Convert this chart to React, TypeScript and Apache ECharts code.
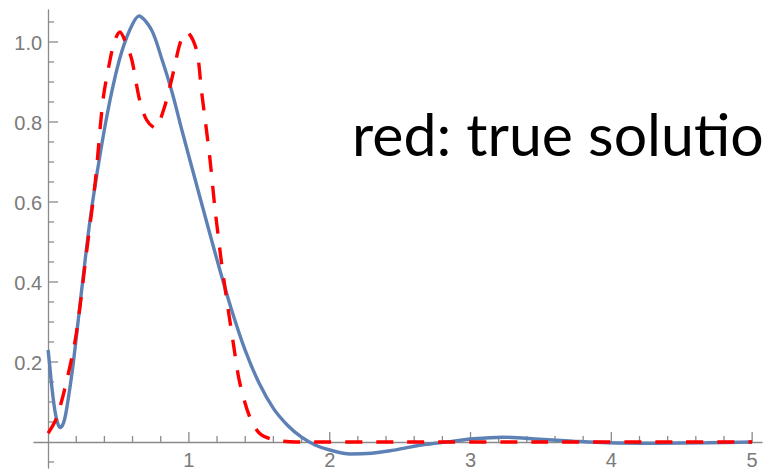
import React, { useEffect, useRef } from "react";
import * as echarts from "echarts";

// Blue (solid) curve: [x, y]
const blueX = [0, 0.012, 0.024, 0.048, 0.07, 0.088, 0.11, 0.13, 0.166, 0.19, 0.245, 0.3, 0.37, 0.44, 0.51, 0.58, 0.645, 0.735, 0.81, 0.88, 0.95, 1.03, 1.13, 1.22, 1.3, 1.4, 1.5, 1.6, 1.7, 1.8, 1.9, 2.0, 2.145, 2.3, 2.43, 2.55, 2.665, 2.83, 3.02, 3.23, 3.49, 3.73, 3.97, 4.32, 4.68, 5.0];
const blueY = [0.23, 0.19, 0.146, 0.079, 0.045, 0.036, 0.048, 0.079, 0.1625, 0.23, 0.4, 0.56, 0.72, 0.855, 0.96, 1.03, 1.065, 1.03, 0.955, 0.875, 0.78, 0.675, 0.545, 0.43, 0.334, 0.229, 0.146, 0.084, 0.042, 0.012, -0.008, -0.02, -0.03, -0.028, -0.022, -0.014, -0.007, 0.0, 0.008, 0.012, 0.007, 0.002, -0.002, -0.003, -0.002, 0.0];

// Red (dashed) curve: true solution
const redX = [0, 0.06, 0.13, 0.2, 0.275, 0.335, 0.39, 0.44, 0.475, 0.51, 0.55, 0.595, 0.65, 0.7, 0.76, 0.82, 0.88, 0.94, 0.985, 1.054, 1.089, 1.148, 1.184, 1.231, 1.267, 1.314, 1.36, 1.432, 1.503, 1.6, 1.76, 2.5, 3.5, 4.5, 5.0];
const redY = [0.022, 0.06, 0.15, 0.27, 0.48, 0.65, 0.855, 0.955, 1.005, 1.025, 1.0, 0.955, 0.855, 0.805, 0.785, 0.83, 0.91, 1.0, 1.025, 0.98, 0.879, 0.7125, 0.5875, 0.45, 0.36, 0.25, 0.15, 0.0625, 0.021, 0.006, 0.0, 0.0, 0.0, 0.0, 0.0];

// Tick values
const xLabels = [1, 2, 3, 4, 5];
const xMinor = [0.2, 0.4, 0.6, 0.8, 1.2, 1.4, 1.6, 1.8, 2.2, 2.4, 2.6, 2.8, 3.2, 3.4, 3.6, 3.8, 4.2, 4.4, 4.6, 4.8];
const yLabels = [0.2, 0.4, 0.6, 0.8, 1.0];
const yMinor = [-0.05, 0.05, 0.1, 0.15, 0.25, 0.3, 0.35, 0.45, 0.5, 0.55, 0.65, 0.7, 0.75, 0.85, 0.9, 0.95, 1.05];

const annotation = "red: true solutio";

const AXIS = "#8a8a8a";
const LABEL = "#7a7a7a";
const LABEL_FONT = "20px 'Liberation Sans', Arial, sans-serif";

export default function App() {
  const ref = useRef<HTMLDivElement>(null);
  useEffect(() => {
    if (!ref.current) return;
    const chart = echarts.init(ref.current, undefined, { renderer: "svg" });
    const tickSeries = (vals: number[], dim: "x" | "y", len: number) => ({
      type: "custom",
      silent: true,
      clip: false,
      z: 3,
      data: vals.map((v) => (dim === "x" ? [v, 0] : [0, v])),
      renderItem: (_p: any, api: any) => {
        const pt = api.coord([api.value(0), api.value(1)]);
        return {
          type: "line",
          shape:
            dim === "x"
              ? { x1: pt[0], y1: pt[1], x2: pt[0], y2: pt[1] - len }
              : { x1: pt[0], y1: pt[1], x2: pt[0] + len, y2: pt[1] },
          style: { stroke: AXIS, lineWidth: 1.3 },
        };
      },
    });
    const labelSeries = (vals: number[], dim: "x" | "y") => ({
      type: "custom",
      silent: true,
      clip: false,
      z: 3,
      data: vals.map((v) => (dim === "x" ? [v, 0] : [0, v])),
      renderItem: (_p: any, api: any) => {
        const x = api.value(0);
        const y = api.value(1);
        const pt = api.coord([x, y]);
        return {
          type: "text",
          x: dim === "x" ? pt[0] : pt[0] - 6,
          y: dim === "x" ? pt[1] + 17.5 : pt[1] + 1,
          style: {
            text: dim === "x" ? String(x) : y.toFixed(1),
            font: LABEL_FONT,
            fill: LABEL,
            align: dim === "x" ? "center" : "right",
            verticalAlign: "middle",
          },
        };
      },
    });
    chart.setOption({
      animation: false,
      backgroundColor: "#ffffff",
      grid: { left: 34, right: 2, top: 10, bottom: 2, outerBoundsMode: "none", containLabel: false },
      xAxis: {
        type: "value",
        min: -0.1,
        max: 5.07,
        splitLine: { show: false },
        axisLine: { onZero: true, lineStyle: { color: AXIS, width: 1.3 } },
        axisTick: { show: false },
        axisLabel: { show: false },
      },
      yAxis: {
        type: "value",
        min: -0.065,
        max: 1.08,
        splitLine: { show: false },
        axisLine: { onZero: true, lineStyle: { color: AXIS, width: 1.3 } },
        axisTick: { show: false },
        axisLabel: { show: false },
      },
      series: [
        tickSeries(xLabels, "x", 10),
        tickSeries(xMinor, "x", 6),
        tickSeries(yLabels, "y", 10),
        tickSeries(yMinor, "y", 6),
        labelSeries(xLabels, "x"),
        labelSeries(yLabels, "y"),
        {
          type: "line",
          showSymbol: false,
          smooth: 0.3,
          z: 4,
          data: blueX.map((x, i) => [x, blueY[i]]),
          lineStyle: { color: "#5E81B5", width: 3.4 },
        },
        {
          type: "line",
          showSymbol: false,
          smooth: 0.3,
          z: 5,
          data: redX.map((x, i) => [x, redY[i]]),
          lineStyle: { color: "#FF0000", width: 3.4, type: [17, 14] },
        },
      ],
      graphic: [
        {
          type: "text",
          left: 352,
          top: 104,
          style: { text: annotation, font: "59px Lato", fill: "#000000" },
        },
      ],
    });
    return () => chart.dispose();
  }, []);
  return <div ref={ref} style={{ position: "fixed", left: 0, top: 0, width: 764, height: 470 }} />;
}
